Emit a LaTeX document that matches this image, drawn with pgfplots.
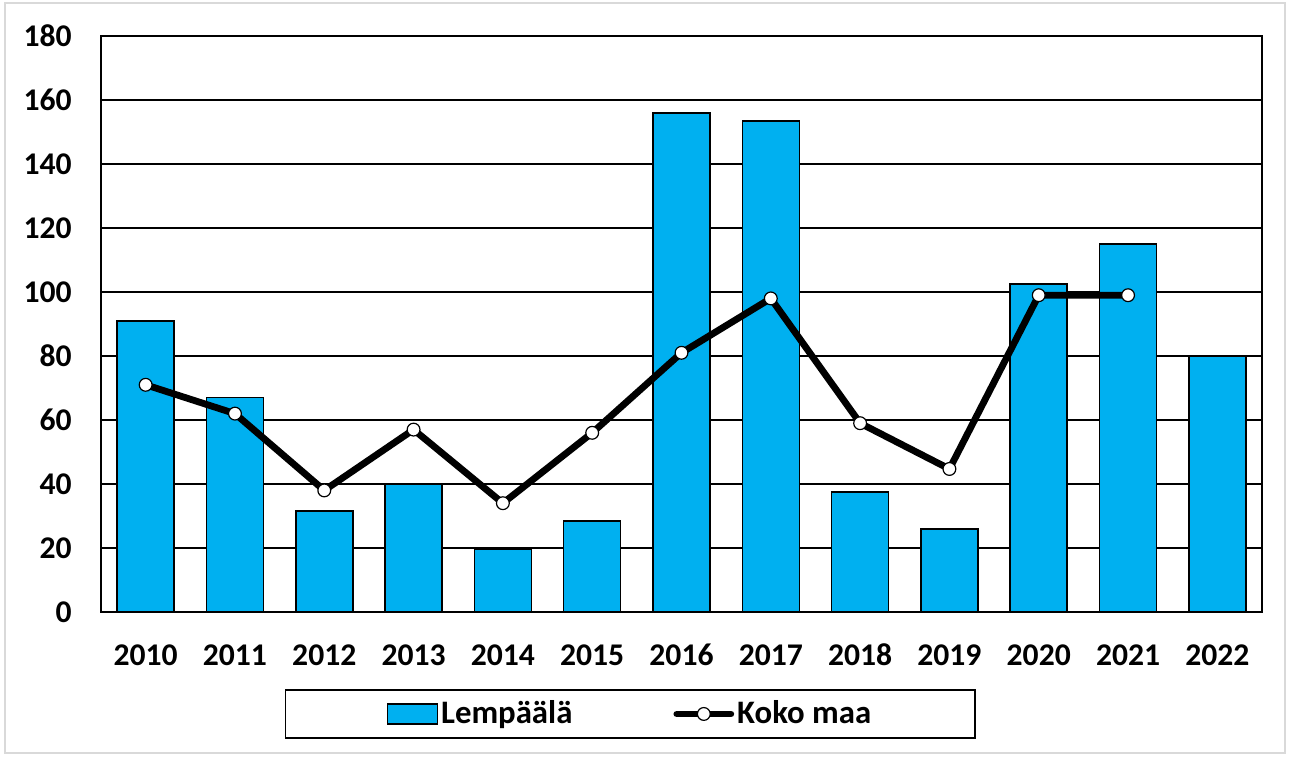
\documentclass[border=0pt]{standalone}
\usepackage{fontspec}
\setmainfont{Carlito}
\usepackage{pgfplots}
\pgfplotsset{compat=1.18}
\definecolor{barblue}{HTML}{00B0F0}
\pgfplotsset{
  barleg/.style={legend image code/.code={\draw[fill=barblue, draw=black, line width=0.75pt] (0pt,-5pt) rectangle (25pt,5pt);}},
  lineleg/.style={legend image code/.code={\draw[mark repeat=2, mark phase=2, ##1] plot coordinates {(0pt,0pt) (13.5pt,0pt) (27pt,0pt)};}},
}
\begin{document}
\begin{tikzpicture}
\path[use as bounding box] (-50.5pt,-72pt) rectangle (594pt,306pt);
\draw[black!15, line width=0.8pt] (-48pt,-70.5pt) rectangle (592pt,304.5pt);
\begin{axis}[
  at={(0pt,0pt)}, anchor=south west, scale only axis,
  width=580.5pt, height=288pt,
  xmin=-0.5, xmax=12.5, ymin=0, ymax=180,
  ytick={0,20,...,180},
  xtick={0,...,12},
  xticklabels={2010,2011,2012,2013,2014,2015,2016,2017,2018,2019,2020,2021,2022},
  ymajorgrids, grid style={black, line width=0.75pt},
  axis line style={black, line width=1pt},
  major tick length=0pt, tick style={draw=none},
  /pgf/number format/assume math mode=true,
  ticklabel style={font=\fontsize{15.8}{18}\selectfont\bfseries, inner sep=0pt},
  yticklabel style={anchor=east, xshift=-14.5pt},
  xticklabel style={anchor=center, yshift=-21.5pt},
  legend style={at={(0.456,-0.177)}, anchor=center, draw=black, line width=0.8pt,
    font=\fontsize{16.4}{19}\selectfont\bfseries, inner xsep=50.5pt, inner ysep=4pt,
    nodes={inner sep=1.5pt},
    legend cell align=left,
    /tikz/every even column/.append style={column sep=49pt}},
  legend columns=2,
]
\addplot[ybar, bar width=28.5pt, fill=barblue, draw=black, line width=0.75pt, barleg]
coordinates {(0,91) (1,67) (2,31.5) (3,40) (4,19.7) (5,28.4) (6,156) (7,153.5) (8,37.5) (9,26) (10,102.5) (11,115) (12,80)};
\addlegendentry{Lempäälä}
\addplot[black, line width=3.4pt, line join=round, line cap=round, mark=*, mark size=3.2pt,
  mark options={fill=white, draw=black, line width=0.6pt}, lineleg]
coordinates {(0,71) (1,62) (2,38) (3,57) (4,34) (5,56) (6,81) (7,98) (8,59) (9,44.7) (10,99) (11,99)};
\addlegendentry{Koko maa}
\end{axis}
\end{tikzpicture}
\end{document}
